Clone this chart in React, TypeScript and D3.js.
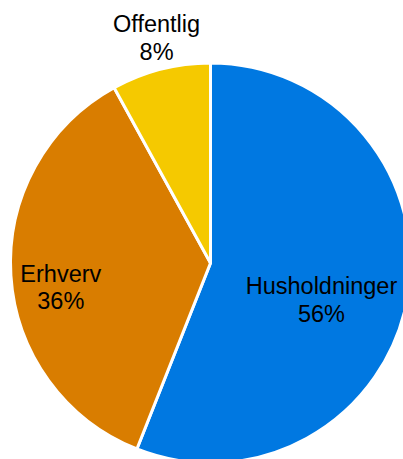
import React from "react";
import * as d3 from "d3";

const categories = ["Husholdninger", "Erhverv", "Offentlig"];
const values = [56, 36, 8];
const colors = ["#0078E1", "#D97D00", "#F5C900"];
// label placement: radius from centre and baseline offset
const labelRadius = [113, 150, 217];
const labelDy = [10, 9.5, -20.5];

const W = 403;
const H = 459;
const cx = 210.5;
const cy = 263;
const R = 200;

export default function App() {
  const pie = d3
    .pie<number>()
    .sort(null)
    .value((d) => d)
    .startAngle(0)
    .endAngle(2 * Math.PI);
  const arcs = pie(values);
  const arcGen = d3.arc<d3.PieArcDatum<number>>().innerRadius(0).outerRadius(R);
  const total = d3.sum(values);

  return (
    <svg
      width={W}
      height={H}
      style={{ position: "absolute", left: 0, top: 0, background: "#fff" }}
      fontFamily="'Liberation Sans', Arial, sans-serif"
    >
      <g transform={`translate(${cx},${cy})`}>
        {arcs.map((a, i) => (
          <path key={i} d={arcGen(a) || ""} fill={colors[i]} stroke="#fff" strokeWidth={3} strokeLinejoin="miter" />
        ))}
        {arcs.map((a, i) => {
          const lab = d3.arc<d3.PieArcDatum<number>>().innerRadius(labelRadius[i]).outerRadius(labelRadius[i]);
          const [x, y] = lab.centroid(a);
          const pct = Math.round((values[i] / total) * 100) + "%";
          return (
            <text key={"t" + i} x={x} y={y + labelDy[i]} textAnchor="middle" fontSize={23.5} fill="#000">
              <tspan x={x}>{categories[i]}</tspan>
              <tspan x={x} dy={27.5}>{pct}</tspan>
            </text>
          );
        })}
      </g>
    </svg>
  );
}
